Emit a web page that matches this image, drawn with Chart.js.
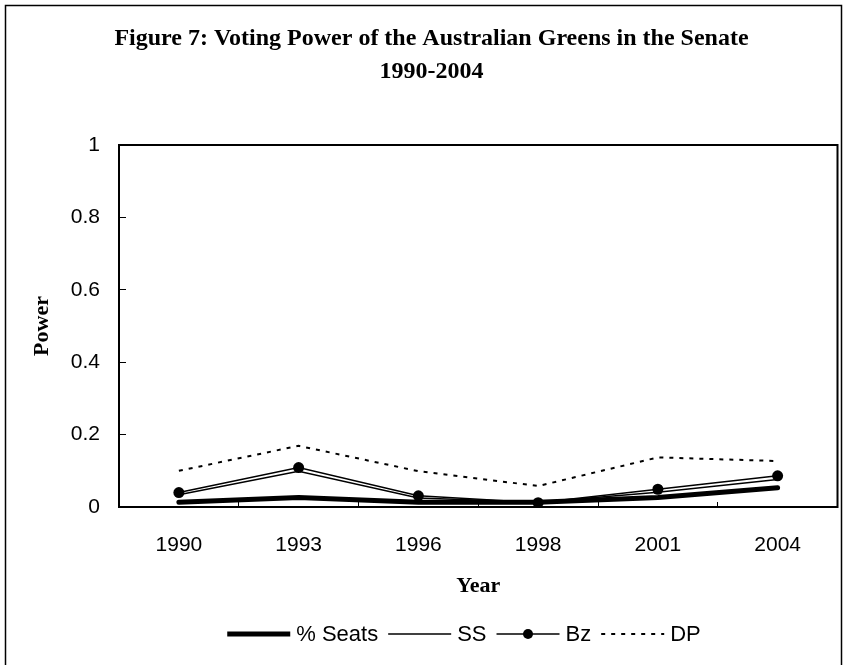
<!DOCTYPE html>
<html>
<head>
<meta charset="utf-8">
<script src="https://cdn.jsdelivr.net/npm/chart.js@4/dist/chart.umd.min.js"></script>
<style>
  html, body { margin: 0; padding: 0; background: #fff; }
  canvas { display: block; }
</style>
</head>
<body>
<canvas id="c" width="843" height="665"></canvas>
<script>
// ---- data ----
const years = ['1990', '1993', '1996', '1998', '2001', '2004'];
const seatShare = [0.013, 0.026, 0.013, 0.013, 0.026, 0.053];
const ssPower = [0.034, 0.099, 0.025, 0.013, 0.041, 0.076];
const bzPower = [0.040, 0.109, 0.031, 0.012, 0.049, 0.086];
const dpPower = [0.100, 0.169, 0.099, 0.058, 0.137, 0.127];
const seriesNames = ['% Seats', 'SS', 'Bz', 'DP'];
const titleLines = ['Figure 7: Voting Power of the Australian Greens in the Senate', '1990-2004'];
const xTitle = 'Year';
const yTitle = 'Power';

const frameAndLegend = {
  id: 'frameAndLegend',
  beforeDraw(chart) {
    const ctx = chart.ctx;
    ctx.save();
    ctx.fillStyle = '#fff';
    ctx.fillRect(0, 0, chart.width, chart.height);
    ctx.strokeStyle = '#000';
    ctx.lineWidth = 1.5;
    ctx.strokeRect(5.5, 5.5, 836, chart.height + 20);
    ctx.restore();
  },
  afterDraw(chart) {
    const ctx = chart.ctx;
    const a = chart.chartArea;
    ctx.save();
    ctx.strokeStyle = '#000';
    ctx.lineWidth = 2;
    ctx.strokeRect(a.left, a.top, a.right - a.left, a.bottom - a.top);

    // legend
    ctx.font = '22px "Liberation Sans", Arial, sans-serif';
    ctx.textBaseline = 'middle';
    ctx.textAlign = 'left';
    const sample = 63, gapText = 6, gapItem = 10;
    const dsets = chart.data.datasets;
    let total = 0;
    dsets.forEach((d, i) => {
      total += sample + gapText + ctx.measureText(d.label).width;
      if (i < dsets.length - 1) total += gapItem;
    });
    let x = 464 - total / 2;
    const y = 634;
    dsets.forEach(d => {
      ctx.beginPath();
      ctx.setLineDash(d.borderDash || []);
      ctx.lineWidth = d.borderWidth;
      ctx.strokeStyle = d.borderColor;
      ctx.moveTo(x, y);
      ctx.lineTo(x + sample, y);
      ctx.stroke();
      ctx.setLineDash([]);
      if (d.pointRadius > 0) {
        ctx.beginPath();
        ctx.fillStyle = d.pointBackgroundColor;
        ctx.arc(x + sample / 2, y, d.pointRadius - 0.5, 0, Math.PI * 2);
        ctx.fill();
      }
      ctx.fillStyle = '#000';
      ctx.fillText(d.label, x + sample + gapText, y + 1);
      x += sample + gapText + ctx.measureText(d.label).width + gapItem;
    });
    ctx.restore();
  }
};

new Chart(document.getElementById('c'), {
  type: 'line',
  data: {
    labels: years,
    datasets: [
      { label: seriesNames[0], data: seatShare, borderColor: '#000', borderWidth: 5, pointRadius: 0, tension: 0, borderCapStyle: 'round' },
      { label: seriesNames[1], data: ssPower, borderColor: '#000', borderWidth: 1.5, pointRadius: 0, tension: 0 },
      { label: seriesNames[2], data: bzPower, borderColor: '#000', borderWidth: 1.5, pointRadius: 5.5, pointBackgroundColor: '#000', pointBorderWidth: 0, tension: 0 },
      { label: seriesNames[3], data: dpPower, borderColor: '#000', borderWidth: 2, borderDash: [4, 6], pointRadius: 0, tension: 0 }
    ]
  },
  options: {
    responsive: false,
    animation: false,
    devicePixelRatio: 1,
    layout: { padding: { left: 24, right: 4, top: 0, bottom: 58 } },
    plugins: {
      legend: { display: false },
      tooltip: { enabled: false },
      title: {
        display: true,
        text: titleLines,
        color: '#000',
        font: { family: '"Liberation Serif", "Times New Roman", serif', size: 24, weight: 'bold', lineHeight: 33 / 24 },
        padding: { top: 22, bottom: 57 }
      }
    },
    scales: {
      x: {
        offset: true,
        grid: { offset: true, drawOnChartArea: false, tickLength: -5, color: '#000', tickWidth: 1 },
        border: { display: false },
        ticks: { padding: 31, color: '#000', font: { family: '"Liberation Sans", Arial, sans-serif', size: 21 }, maxRotation: 0 },
        title: { display: true, text: xTitle, color: '#000', font: { family: '"Liberation Serif", "Times New Roman", serif', size: 22, weight: 'bold' }, padding: { top: 0, bottom: 7 } },
        afterFit(s) { s.height = 100; }
      },
      y: {
        min: 0, max: 1,
        grid: { drawOnChartArea: false, tickLength: -7, color: '#000', tickWidth: 1 },
        border: { display: false },
        ticks: { stepSize: 0.2, padding: 26, color: '#000', font: { family: '"Liberation Sans", Arial, sans-serif', size: 21 },
                 callback: v => String(Math.round(v * 10) / 10) },
        title: { display: true, text: yTitle, color: '#000', font: { family: '"Liberation Serif", "Times New Roman", serif', size: 22, weight: 'bold' }, padding: { top: 5, bottom: 0 } },
        afterFit(s) { s.width = 95; }
      }
    }
  },
  plugins: [frameAndLegend]
});
</script>
</body>
</html>
